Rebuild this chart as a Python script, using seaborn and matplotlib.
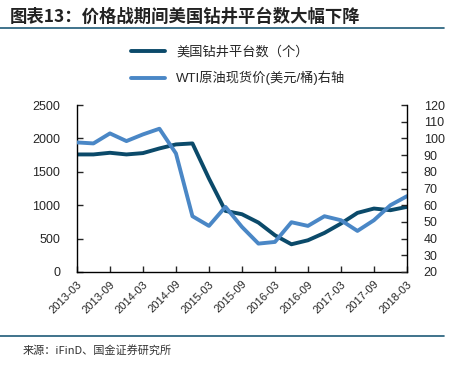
import pandas as pd
import matplotlib.pyplot as plt
import seaborn as sns

# quarterly points, 2013-03 .. 2018-03
quarters = ["2013-03", "2013-06", "2013-09", "2013-12", "2014-03", "2014-06", "2014-09",
            "2014-12", "2015-03", "2015-06", "2015-09", "2015-12", "2016-03", "2016-06",
            "2016-09", "2016-12", "2017-03", "2017-06", "2017-09", "2017-12", "2018-03"]
rig_count = [1760, 1760, 1785, 1760, 1780, 1850, 1910, 1925, 1400, 915, 865, 740,
             550, 415, 475, 585, 725, 885, 950, 925, 975]
wti_price = [97.6, 97.0, 103.0, 98.4, 102.4, 105.8, 91.0, 53.4, 47.6, 59.0, 47.0, 37.0,
             38.0, 49.8, 47.6, 53.4, 51.0, 44.6, 51.0, 60.0, 65.4]
tick_labels = quarters[::2]

df = pd.DataFrame({"idx": range(len(quarters)), "rigs": rig_count, "wti": wti_price})

sns.set_theme(style="white")
plt.rcParams["font.family"] = ["Liberation Sans", "Noto Sans CJK SC"]

dark = "#0b4a6a"
light = "#4a87c6"

fig = plt.figure(figsize=(4.58, 3.65), dpi=100)
ax = fig.add_axes([0.168, 0.2548, 0.7205, 0.4575])
ax2 = ax.twinx()

sns.lineplot(ax=ax, data=df, x="idx", y="rigs", color=dark, linewidth=2.8, label="美国钻井平台数（个）", legend=False)
sns.lineplot(ax=ax2, data=df, x="idx", y="wti", color=light, linewidth=2.8, label="WTI原油现货价(美元/桶)右轴", legend=False)

ax.set_xlim(0, len(quarters) - 1)
ax.set_ylim(0, 2500)
ax.set_yticks(range(0, 2501, 500))
ax2.set_ylim(20, 120)
ax2.set_yticks(range(20, 121, 10))
ax.set_xticks(range(0, len(quarters), 2))
ax.set_xticklabels(tick_labels, rotation=45, ha="right", rotation_mode="anchor", fontsize=8)
ax.set_xlabel("")
ax.set_ylabel("")
ax2.set_ylabel("")

for a in (ax, ax2):
    a.spines["top"].set_visible(False)
    for s in ("left", "right", "bottom"):
        a.spines[s].set_color("black")
        a.spines[s].set_linewidth(1.0)
ax.spines["right"].set_visible(False)
ax2.spines["left"].set_visible(False)
ax2.spines["bottom"].set_visible(False)

ax.tick_params(axis="y", direction="in", length=4, width=1, labelsize=9, pad=12, left=True)
ax.tick_params(axis="x", direction="in", length=4, width=1, pad=5, bottom=True)
ax2.tick_params(axis="y", direction="in", length=4, width=1, labelsize=9, pad=12, right=True)

# legend above the plot
h1, l1 = ax.get_legend_handles_labels()
h2, l2 = ax2.get_legend_handles_labels()
fig.legend(h1 + h2, l1 + l2, loc="center", bbox_to_anchor=(0.52, 0.82), frameon=False,
           fontsize=9.5, handlelength=2.6, labelspacing=0.9)

# title and rules
fig.text(0.022, 0.955, "图表13：价格战期间美国钻井平台数大幅下降", fontsize=12.5, fontweight="bold",
         color="#222222", ha="left", va="center", family=["Noto Sans CJK SC", "DejaVu Sans"])
fig.add_artist(plt.Line2D([0, 0.97], [0.923, 0.923], color="#1f5b78", linewidth=1.2))
fig.add_artist(plt.Line2D([0, 0.97], [0.08, 0.08], color="#1f5b78", linewidth=1.2))
fig.text(0.05, 0.04, "来源：iFinD、国金证券研究所", fontsize=8, color="#333333", ha="left", va="center",
         family=["Noto Sans CJK SC", "DejaVu Sans"])

plt.savefig("out.png", dpi=100)
plt.close()
